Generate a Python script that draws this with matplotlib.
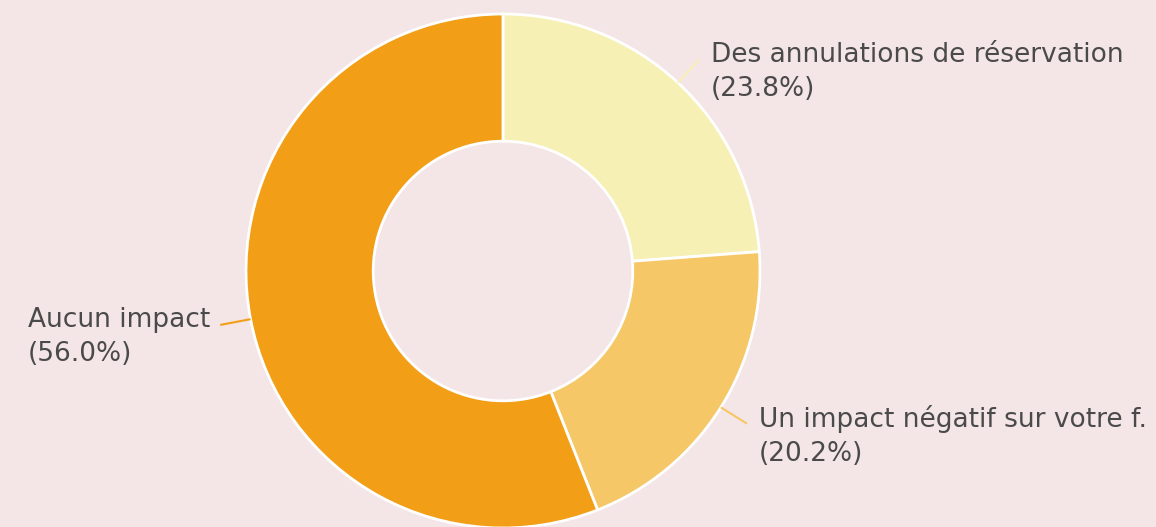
import matplotlib.pyplot as plt
import numpy as np

# answers and their shares (%)
labels = ["Des annulations de réservation", "Un impact négatif sur votre f.", "Aucun impact"]
values = [23.8, 20.2, 56.0]
colors = ["#F7F0B4", "#F5C766", "#F29F17"]

bg = "#F4E5E7"

fig = plt.figure(figsize=(11.56, 5.27), dpi=100, facecolor=bg)
ax = fig.add_axes([0, 0, 1, 1])
ax.set_facecolor(bg)

cx, cy, r = 503, 256, 257
wedges, _ = ax.pie(values, colors=colors, startangle=90, counterclock=False,
                   radius=r, center=(cx, cy), frame=True,
                   wedgeprops=dict(width=r * 0.495, edgecolor="white", linewidth=2))
ax.set_xlim(0, 1156)
ax.set_ylim(0, 527)
ax.set_aspect("equal")
ax.axis("off")

for w, lab, val, col in zip(wedges, labels, values, colors):
    ang = np.deg2rad((w.theta1 + w.theta2) / 2)
    x0, y0 = cx + r * np.cos(ang), cy + r * np.sin(ang)
    x1, y1 = cx + r * 1.12 * np.cos(ang), cy + r * 1.12 * np.sin(ang)
    ax.plot([x0, x1], [y0, y1], color=col, lw=1.5, solid_capstyle="butt")
    right = np.cos(ang) > 0
    ax.text(x1 + (12 if right else -10), y1 - 12, f"{lab}\n({val:.1f}%)",
            ha="left" if right else "right", va="center", multialignment="left",
            fontsize=19, color="#4a4a4a", linespacing=1.42, family="DejaVu Sans")

fig.savefig("out.png", dpi=100, facecolor=bg)
